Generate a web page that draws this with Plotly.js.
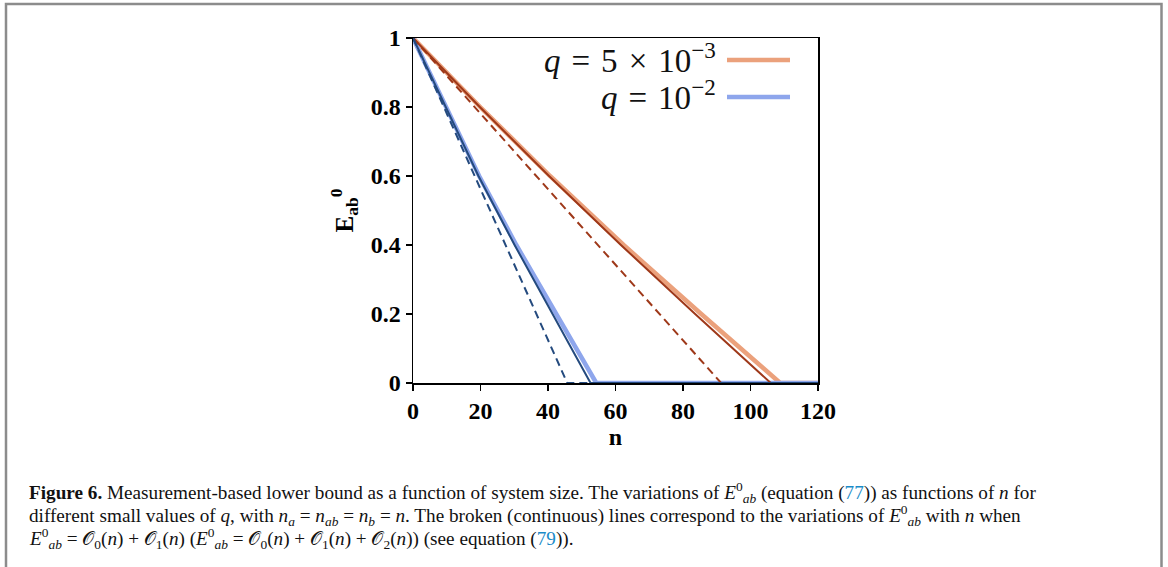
<!DOCTYPE html>
<html>
<head>
<meta charset="utf-8">
<script src="https://cdn.plot.ly/plotly-3.0.1.min.js"></script>
<style>html,body{margin:0;padding:0;background:#fff;}#chart{width:1168px;height:567px;}</style>
</head>
<body>
<div id="chart"></div>
<script>
// ---- data ----
// q = 5e-3
const nOrangeExact = [0, 19.9, 40.6, 62.4, 85.4, 108.8, 120];
const eOrangeExact = [1, 0.8, 0.6, 0.4, 0.2, 0, 0];
const nOrangeO2 = [0, 19.8, 40.3, 61.6, 83.6, 106, 120];
const eOrangeO2 = [1, 0.8, 0.6, 0.4, 0.2, 0, 0];
const nOrangeO1 = [0, 91.3, 120];
const eOrangeO1 = [1, 0, 0];
// q = 1e-2
const nBlueExact = [0, 9.7, 19.6, 30.6, 42.3, 54.3, 120];
const eBlueExact = [1, 0.8, 0.6, 0.4, 0.2, 0, 0];
const nBlueO2 = [0, 9.6, 19.4, 30.1, 41.3, 52.6, 120];
const eBlueO2 = [1, 0.8, 0.6, 0.4, 0.2, 0, 0];
const nBlueO1 = [0, 45.7, 120];
const eBlueO1 = [1, 0, 0];

const xTicks = [0, 20, 40, 60, 80, 100, 120];
const yTicks = [0, 0.2, 0.4, 0.6, 0.8, 1];
const legendLabels = ['<i>q</i>\u2004=\u20045\u2004×\u200410<sup>−3</sup>', '<i>q</i>\u2004=\u200410<sup>−2</sup>'];

// ---- styles ----
const cLightOrange = '#EBA17C';
const cDarkRed = '#9E3819';
const cLightBlue = '#8EA6EC';
const cDarkBlue = '#244A7E';
const serif = 'Liberation Serif, Times New Roman, serif';

// pixel -> paper helpers (plot area: 413..818 x 38..383)
const L = 413, R = 818, T = 38, B = 383;
const px = p => (p - L) / (R - L);
const py = p => (B - p) / (B - T);

const traces = [
  {x: nOrangeExact, y: eOrangeExact, mode: 'lines', line: {color: cLightOrange, width: 4.5}},
  {x: nBlueExact, y: eBlueExact, mode: 'lines', line: {color: cLightBlue, width: 4.5}},
  {x: nOrangeO1, y: eOrangeO1, mode: 'lines', line: {color: cDarkRed, width: 2, dash: '8px,5px'}},
  {x: nOrangeO2, y: eOrangeO2, mode: 'lines', line: {color: cDarkRed, width: 2}},
  {x: nBlueO1, y: eBlueO1, mode: 'lines', line: {color: cDarkBlue, width: 2, dash: '8px,5px'}},
  {x: nBlueO2, y: eBlueO2, mode: 'lines', line: {color: cDarkBlue, width: 2}}
];

const blue = '#1a8bc8';
const captionLines = [
  "<b>Figure 6.</b> Measurement-based lower bound as a function of system size. The variations of <i>E</i><sup>0</sup><sub><i>ab</i></sub> (equation (<span style='color:" + blue + "'>77</span>)) as functions of <i>n</i> for",
  "different small values of <i>q</i>, with <i>n</i><sub><i>a</i></sub> = <i>n</i><sub><i>ab</i></sub> = <i>n</i><sub><i>b</i></sub> = <i>n</i>. The broken (continuous) lines correspond to the variations of <i>E</i><sup>0</sup><sub><i>ab</i></sub> with <i>n</i> when",
  "<i>E</i><sup>0</sup><sub><i>ab</i></sub> = 𝒪<sub>0</sub>(<i>n</i>) + 𝒪<sub>1</sub>(<i>n</i>) (<i>E</i><sup>0</sup><sub><i>ab</i></sub> = 𝒪<sub>0</sub>(<i>n</i>) + 𝒪<sub>1</sub>(<i>n</i>) + 𝒪<sub>2</sub>(<i>n</i>)) (see equation (<span style='color:" + blue + "'>79</span>))."
];
const captionY = [492, 515, 538];

const annotations = [];
captionLines.forEach((t, i) => annotations.push({
  text: t, xref: 'paper', yref: 'paper', x: px(27), y: py(captionY[i]),
  xanchor: 'left', yanchor: 'middle', showarrow: false,
  font: {family: serif, size: 19.2, color: '#111'}
}));
const legendY = [58, 95];
const legendColors = [cLightOrange, cLightBlue];
const shapes = [];
legendLabels.forEach((t, i) => {
  annotations.push({
    text: t, xref: 'paper', yref: 'paper', x: px(718), y: py(legendY[i]),
    xanchor: 'right', yanchor: 'middle', showarrow: false,
    font: {family: serif, size: 33, color: '#111'}
  });
  shapes.push({type: 'line', xref: 'paper', yref: 'paper',
    x0: px(727), x1: px(790), y0: py([60, 97][i]), y1: py([60, 97][i]),
    line: {color: legendColors[i], width: 4.5}});
});
// figure frame
shapes.push({type: 'rect', xref: 'paper', yref: 'paper', layer: 'above',
  x0: px(6), x1: px(1161.5), y0: py(4), y1: py(620),
  line: {color: '#8c8c8c', width: 2.5}, fillcolor: 'rgba(0,0,0,0)'});

const axisFont = {family: serif, size: 24, color: '#000'};
const layout = {
  width: 1168, height: 567,
  margin: {l: L, r: 1168 - R, t: T, b: 567 - B, pad: 0},
  paper_bgcolor: '#fff', plot_bgcolor: '#fff',
  showlegend: false,
  xaxis: {
    range: [0, 120], tickvals: xTicks, ticktext: xTicks.map(v => '<b>' + v + '</b>'),
    ticks: 'outside', ticklen: 6, tickwidth: 1.2, tickcolor: '#000',
    showline: true, linecolor: '#000', linewidth: 1.5, mirror: true,
    showgrid: false, zeroline: false, tickfont: axisFont, layer: 'below traces',
    title: {text: '<b>n</b>', font: {family: serif, size: 24, color: '#000'}, standoff: 2}
  },
  yaxis: {
    range: [0, 1], tickvals: yTicks, ticktext: yTicks.map(v => '<b>' + v + '</b>'),
    ticks: 'outside', ticklen: 6, tickwidth: 1.2, tickcolor: '#000',
    showline: true, linecolor: '#000', linewidth: 1.5, mirror: true,
    showgrid: false, zeroline: false, tickfont: axisFont, layer: 'below traces',
    title: {text: '<b>E<sub>ab</sub><sup>0</sup></b>', font: {family: serif, size: 25, color: '#000'}, standoff: 10}
  },
  annotations: annotations,
  shapes: shapes
};
Plotly.newPlot('chart', traces, layout, {displayModeBar: false, staticPlot: true});
</script>
</body>
</html>
